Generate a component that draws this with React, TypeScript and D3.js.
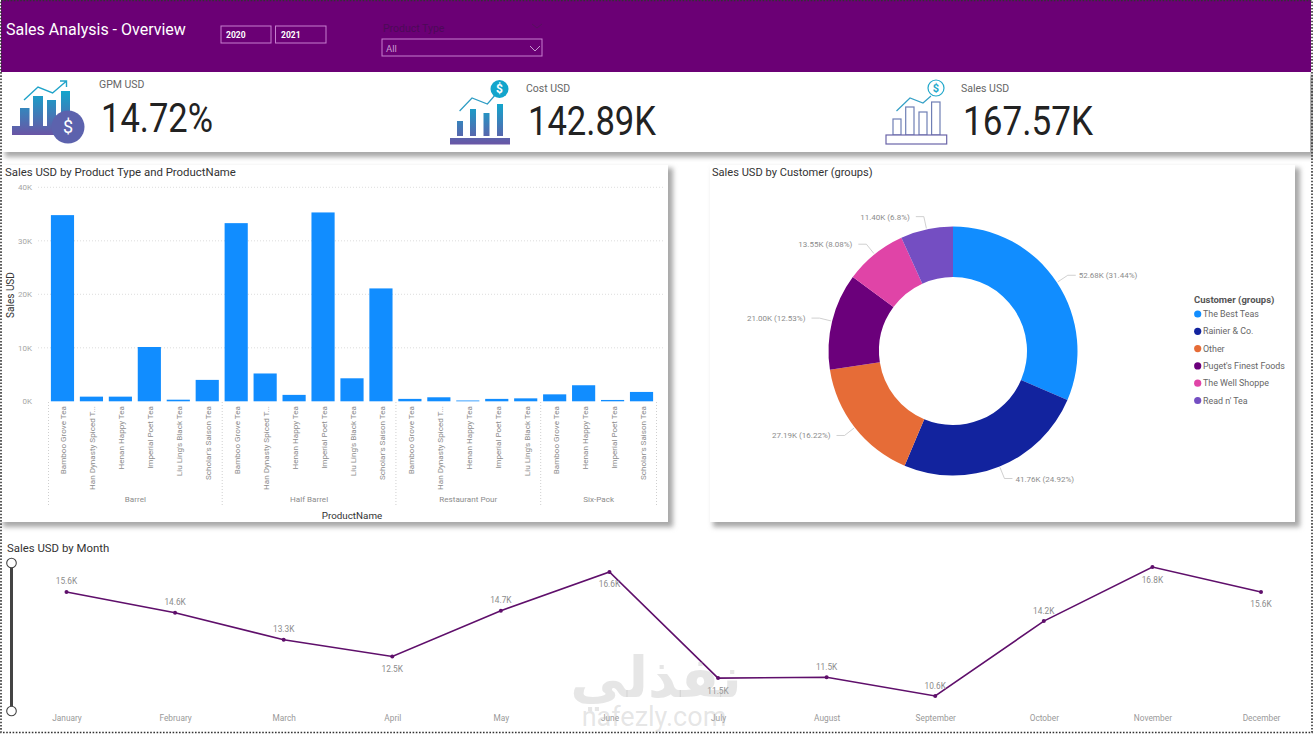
import { useEffect, useRef } from "react";
import * as d3 from "d3";

const productTypes = ["Barrel", "Half Barrel", "Restaurant Pour", "Six-Pack"];
const productCounts = [6, 6, 5, 4];
const productNames = [
  "Bamboo Grove Tea", "Han Dynasty Spiced T...", "Henan Happy Tea", "Imperial Poet Tea", "Liu Ling's Black Tea", "Scholar's Saison Tea",
  "Bamboo Grove Tea", "Han Dynasty Spiced T...", "Henan Happy Tea", "Imperial Poet Tea", "Liu Ling's Black Tea", "Scholar's Saison Tea",
  "Bamboo Grove Tea", "Han Dynasty Spiced T...", "Henan Happy Tea", "Imperial Poet Tea", "Liu Ling's Black Tea",
  "Bamboo Grove Tea", "Henan Happy Tea", "Imperial Poet Tea", "Scholar's Saison Tea",
];
const productSales = [
  34800, 870, 870, 10150, 300, 4000,
  33300, 5200, 1200, 35300, 4300, 21100,
  450, 750, 150, 450, 550,
  1300, 3000, 250, 1750,
];

const customers = ["The Best Teas", "Rainier & Co.", "Other", "Puget's Finest Foods", "The Well Shoppe", "Read n' Tea"];
const customerSales = [52.68, 41.76, 27.19, 21.0, 13.55, 11.4];
const customerShares = ["31.44%", "24.92%", "16.22%", "12.53%", "8.08%", "6.8%"];
const customerColors = ["#118dff", "#12239e", "#e66c37", "#6b007b", "#e044a7", "#744ec2"];

const months = ["January", "February", "March", "April", "May", "June", "July", "August", "September", "October", "November", "December"];
const monthSales = [15.6, 14.6, 13.3, 12.5, 14.7, 16.56, 11.46, 11.5, 10.6, 14.2, 16.8, 15.6];
const monthLabelBelow = [false, false, false, true, false, true, true, false, false, false, true, true];

const din = "Roboto, sans-serif";
const purple = "#6b0075";

const Shadow = ({ x, y, w, h }: any) => (
  <>
    <rect x={x + 3} y={y + 3} width={w + 2} height={h + 2} fill="#a8a8a8" filter="url(#blur)" />
    <rect x={x} y={y} width={w} height={h} fill="#fff" />
  </>
);

const App = () => {
  const barRef = useRef<SVGGElement | null>(null);
  const donutRef = useRef<SVGGElement | null>(null);
  const lineRef = useRef<SVGGElement | null>(null);

  useEffect(() => {
    drawBars();
    drawDonut();
    drawLine();
  }, []);

  const drawBars = () => {
    const g = d3.select(barRef.current);
    g.selectAll("*").remove();
    const xScale = d3.scaleBand<number>().domain(d3.range(productSales.length)).range([48, 656]).paddingInner(0.2).paddingOuter(0.1);
    const yScale = d3.scaleLinear().domain([0, 40000]).range([401.3, 187.3]);

    // gridlines first so the bars sit over them
    const yAxis = d3.axisLeft(yScale).tickValues([0, 10000, 20000, 30000, 40000]).tickFormat((d: any) => `${d / 1000}K`).tickSize(0).tickPadding(0);
    const ax = g.append("g").attr("transform", "translate(32,0)").call(yAxis as any);
    ax.select(".domain").remove();
    ax.selectAll("text").attr("fill", "#a6a6a6").style("font-family", din).style("font-size", "8px");
    g.selectAll(".grid")
      .data([10000, 20000, 30000, 40000])
      .join("line")
      .attr("x1", 38)
      .attr("x2", 665)
      .attr("y1", (d) => yScale(d))
      .attr("y2", (d) => yScale(d))
      .attr("stroke", "#d4d4d4")
      .attr("stroke-width", 0.8)
      .attr("stroke-dasharray", "1 2");

    g.selectAll(".bar")
      .data(productSales)
      .join("rect")
      .attr("x", (_, i) => xScale(i) as number)
      .attr("y", (d) => yScale(d))
      .attr("width", xScale.bandwidth())
      .attr("height", (d) => yScale(0) - yScale(d))
      .attr("fill", "#118dff");

    g.selectAll(".name")
      .data(productNames)
      .join("text")
      .attr("transform", (_, i) => `translate(${(xScale(i) as number) + xScale.bandwidth() / 2 + 4},406) rotate(-90)`)
      .attr("text-anchor", "end")
      .attr("fill", "#8c8c8c")
      .style("font-family", din)
      .style("font-size", "8.1px")
      .text((d) => d);

    // group separators and group names
    const step = xScale.step();
    let start = 0;
    const edges = [0];
    productCounts.forEach((c) => {
      start += c;
      edges.push(start);
    });
    g.selectAll(".sep")
      .data(edges)
      .join("line")
      .attr("x1", (d) => 48.5 + d * step)
      .attr("x2", (d) => 48.5 + d * step)
      .attr("y1", 402)
      .attr("y2", 507)
      .attr("stroke", "#cfcfcf")
      .attr("stroke-dasharray", "1 2");
    g.selectAll(".type")
      .data(productTypes)
      .join("text")
      .attr("x", (_, i) => 48.5 + ((edges[i] + edges[i + 1]) / 2) * step)
      .attr("y", 502)
      .attr("text-anchor", "middle")
      .attr("fill", "#8c8c8c")
      .style("font-family", din)
      .style("font-size", "8.1px")
      .text((d) => d);
  };

  const drawDonut = () => {
    const g = d3.select(donutRef.current);
    g.selectAll("*").remove();
    const cx = 953;
    const cy = 351;
    const outer = 124.5;
    const pie = d3.pie<number>().sort(null);
    const arc = d3.arc<any>().innerRadius(74).outerRadius(outer);
    const slices = pie(customerSales);
    const chart = g.append("g").attr("transform", `translate(${cx},${cy})`);
    chart
      .selectAll("path")
      .data(slices)
      .join("path")
      .attr("d", arc)
      .attr("fill", (_, i) => customerColors[i]);

    const mid = (d: any) => (d.startAngle + d.endAngle) / 2;
    const elbow = (d: any) => [Math.sin(mid(d)) * (outer + 13), -Math.cos(mid(d)) * (outer + 13)];
    const side = (d: any) => (mid(d) < Math.PI ? 1 : -1);
    chart
      .selectAll("polyline")
      .data(slices)
      .join("polyline")
      .attr("points", (d) => {
        const [ex, ey] = elbow(d);
        const a = mid(d);
        return `${Math.sin(a) * (outer + 1)},${-Math.cos(a) * (outer + 1)} ${ex},${ey} ${ex + side(d) * 8},${ey}`;
      })
      .attr("fill", "none")
      .attr("stroke", "#c4c4c4")
      .attr("stroke-width", 0.8);
    chart
      .selectAll("text")
      .data(slices)
      .join("text")
      .attr("x", (d) => elbow(d)[0] + side(d) * (side(d) > 0 ? 11 : 14))
      .attr("y", (d) => elbow(d)[1] + 3)
      .attr("text-anchor", (d) => (side(d) > 0 ? "start" : "end"))
      .attr("fill", "#8c8c8c")
      .style("font-family", din)
      .style("font-size", "8px")
      .text((d, i) => `${customerSales[i].toFixed(2)}K (${customerShares[i]})`);

    const legendY = d3.scalePoint<string>().domain(customers).range([314, 400.5]);
    g.append("text").attr("x", 1194).attr("y", 303).attr("fill", "#555").style("font-family", din).style("font-size", "9.5px").style("font-weight", 700).text("Customer (groups)");
    g.selectAll(".dot")
      .data(customers)
      .join("circle")
      .attr("cx", 1197.7)
      .attr("cy", (d) => legendY(d) as number)
      .attr("r", 3.6)
      .attr("fill", (_, i) => customerColors[i]);
    g.selectAll(".leg")
      .data(customers)
      .join("text")
      .attr("x", 1203)
      .attr("y", (d) => (legendY(d) as number) + 3)
      .attr("fill", "#666")
      .style("font-family", din)
      .style("font-size", "8.9px")
      .text((d) => d);
  };

  const drawLine = () => {
    const g = d3.select(lineRef.current);
    g.selectAll("*").remove();
    const xScale = d3.scalePoint<string>().domain(months).range([66.5, 1261]);
    const yScale = d3.scaleLinear().domain([10.6, 16.8]).range([696, 567]);
    const line = d3
      .line<number>()
      .x((_, i) => xScale(months[i]) as number)
      .y((d) => yScale(d));
    g.append("path").attr("d", line(monthSales)).attr("fill", "none").attr("stroke", "#5f0f6b").attr("stroke-width", 1.6);
    g.selectAll("circle")
      .data(monthSales)
      .join("circle")
      .attr("cx", (_, i) => xScale(months[i]) as number)
      .attr("cy", (d) => yScale(d))
      .attr("r", 2)
      .attr("fill", "#5f0f6b");
    g.selectAll(".val")
      .data(monthSales)
      .join("text")
      .attr("x", (_, i) => xScale(months[i]) as number)
      .attr("y", (d, i) => yScale(d) + (monthLabelBelow[i] ? 15.5 : -7.5))
      .attr("text-anchor", "middle")
      .attr("fill", "#8c8c8c")
      .style("font-family", din)
      .style("font-size", "8.3px")
      .text((d) => `${d.toFixed(1)}K`);
    const axis = d3.axisBottom(xScale).tickSize(0).tickPadding(0);
    const ax = g.append("g").attr("transform", "translate(0,715)").call(axis as any);
    ax.select(".domain").remove();
    ax.selectAll("text").attr("fill", "#999").style("font-family", din).style("font-size", "8.3px");
  };

  return (
    <svg width={1313} height={734} style={{ position: "absolute", left: 0, top: 0, display: "block", background: "#fff" }}>
      <defs>
        <filter id="blur" x="-5%" y="-5%" width="110%" height="110%">
          <feGaussianBlur stdDeviation="2.5" />
        </filter>
        <linearGradient id="iconFill" x1="0" y1="0" x2="0" y2="1">
          <stop offset="0" stopColor="#12a5cc" />
          <stop offset="1" stopColor="#6a55a5" />
        </linearGradient>
      </defs>

      <Shadow x={2} y={72} w={1308} h={80} />
      <Shadow x={0} y={165} w={668} h={357} />
      <Shadow x={710} y={165} w={585} h={357} />

      <rect x={1} y={0} width={1310} height={72} fill={purple} />
      <text x={6} y={35} fill="#fff" fontFamily={din} fontSize={16}>Sales Analysis - Overview</text>
      <rect x={221} y={26} width={50} height={17} fill="none" stroke="#c77fd0" />
      <rect x={275.5} y={26} width={50.5} height={17} fill="none" stroke="#c77fd0" />
      <text x={226} y={38} fill="#fff" fontFamily={din} fontSize={8.5} fontWeight={700}>2020</text>
      <text x={281} y={38} fill="#fff" fontFamily={din} fontSize={8.5} fontWeight={700}>2021</text>
      <text x={383} y={32} fill="#4d0a58" fontFamily={din} fontSize={10.5}>Product Type</text>
      <path d="M532 24 L537 28 L542 24" fill="none" stroke="#57105f" />
      <rect x={382} y={39} width={160} height={17} fill="none" stroke="#c77fd0" />
      <text x={386} y={52} fill="#c79ad0" fontFamily={din} fontSize={9.5}>All</text>
      <path d="M530 46 L535 51 L540 46" fill="none" stroke="#c79ad0" />

      {/* KPI icons */}
      <g fill="url(#iconFill)">
        <path d="M20 126V108H29.5V126ZM33 126V96H43V126ZM47 126V100H56V126ZM61 126V91H70V126ZM12 126H70V135H12Z" />
        <path d="M457 136V121H463V136ZM470 136V109H476V136ZM483.5 136V113H489.5V136ZM497 136V104H503V136ZM450 138H510V144.5H450Z" />
      </g>
      <circle cx={68} cy={127} r={16.5} fill="#5c62ad" />
      <text x={68} y={133} textAnchor="middle" fill="#fff" fontFamily={din} fontSize={18}>$</text>
      <path d="M24 100 L38 87 L52.6 93 L66.5 81 M60 81 H66.5 V87" fill="none" stroke="#1fa3c9" strokeWidth={1.4} />
      <path d="M459.6 111 L472 98 L487.4 104 L496 94" fill="none" stroke="#2d9cc4" strokeWidth={1.2} />
      <circle cx={499.5} cy={89} r={9} fill="#12a5cc" />
      <text x={499.5} y={93} textAnchor="middle" fill="#fff" fontFamily={din} fontSize={12} fontWeight={700}>$</text>
      <g fill="#fff" stroke="#6f7fb5" strokeWidth={1.2}>
        <rect x={893} y={119} width={8} height={16} />
        <rect x={905.7} y={107} width={8.3} height={28} />
        <rect x={919} y={112} width={8} height={23} />
        <rect x={931.6} y={102} width={8.4} height={33} />
        <rect x={886} y={135} width={60.7} height={9} stroke="#6a64a8" />
      </g>
      <path d="M896.5 111 L910 98 L923 103 L931 96" fill="none" stroke="#35a0c6" strokeWidth={1.2} />
      <circle cx={936} cy={88} r={8} fill="#fff" stroke="#22a8cb" strokeWidth={1.2} />
      <text x={936} y={92} textAnchor="middle" fill="#22a8cb" fontFamily={din} fontSize={11} fontWeight={700}>$</text>

      <text x={99} y={88} fill="#666" fontFamily={din} fontSize={10.5}>GPM USD</text>
      <text x={526} y={92} fill="#666" fontFamily={din} fontSize={10.5}>Cost USD</text>
      <text x={961} y={92} fill="#666" fontFamily={din} fontSize={10.5}>Sales USD</text>
      <text x={101} y={132} fill="#222" fontFamily={din} fontSize={41} textLength={112} lengthAdjust="spacingAndGlyphs">14.72%</text>
      <text x={528} y={135} fill="#222" fontFamily={din} fontSize={41} textLength={128} lengthAdjust="spacingAndGlyphs">142.89K</text>
      <text x={963} y={135} fill="#222" fontFamily={din} fontSize={41} textLength={130} lengthAdjust="spacingAndGlyphs">167.57K</text>

      <text x={5} y={176} fill="#333" fontFamily={din} fontSize={11.4}>Sales USD by Product Type and ProductName</text>
      <text x={712} y={176} fill="#333" fontFamily={din} fontSize={11.1}>Sales USD by Customer (groups)</text>
      <text x={7} y={552} fill="#333" fontFamily={din} fontSize={11.4}>Sales USD by Month</text>
      <text transform="translate(13.5,295) rotate(-90)" textAnchor="middle" fill="#333" fontFamily={din} fontSize={10}>Sales USD</text>
      <text x={352} y={518.5} textAnchor="middle" fill="#333" fontFamily={din} fontSize={9.8}>ProductName</text>

      <g ref={barRef} />
      <g ref={donutRef} />

      {/* range slider */}
      <line x1={11.5} x2={11.5} y1={563} y2={711} stroke="#444" strokeWidth={3} />
      <circle cx={11.5} cy={563} r={4.8} fill="#fff" stroke="#444" strokeWidth={1.1} />
      <circle cx={11.5} cy={711} r={4.8} fill="#fff" stroke="#444" strokeWidth={1.1} />
      <g ref={lineRef} />

      {/* site watermark */}
      <text x={656} y={697} textAnchor="middle" fill="#b0b0b0" fillOpacity={0.32} fontFamily="'DejaVu Sans'" fontWeight={700} fontSize={56}>نفذلي</text>
      <text x={654} y={726} textAnchor="middle" fill="#b0b0b0" fillOpacity={0.32} fontFamily="Roboto, sans-serif" fontSize={27}>nafezly.com</text>

      <rect x={1} y={0.5} width={1311} height={732} fill="none" stroke="#333" strokeWidth={1.6} strokeDasharray="1.6 1.6" />
    </svg>
  );
};

export default App;
